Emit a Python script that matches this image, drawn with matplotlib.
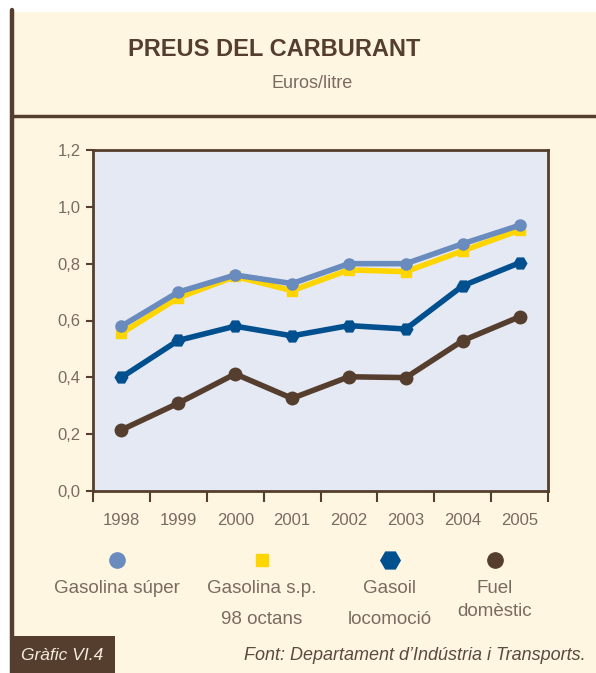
import matplotlib
matplotlib.use('Agg')
import matplotlib.pyplot as plt
from matplotlib.patches import Rectangle
from matplotlib.lines import Line2D

# data (euros/litre)
years = ['1998', '1999', '2000', '2001', '2002', '2003', '2004', '2005']
super_ = [0.58, 0.70, 0.76, 0.73, 0.80, 0.80, 0.87, 0.935]
sp98 = [0.555, 0.68, 0.755, 0.705, 0.778, 0.772, 0.845, 0.918]
gasoil = [0.40, 0.53, 0.58, 0.546, 0.582, 0.57, 0.722, 0.803]
fuel = [0.215, 0.309, 0.412, 0.326, 0.402, 0.399, 0.529, 0.613]

labels = ['Gasolina súper', 'Gasolina s.p.\n98 octans', 'Gasoil\nlocomoció', 'Fuel\ndomèstic']
yticks = [0.0, 0.2, 0.4, 0.6, 0.8, 1.0, 1.2]

BROWN = '#553e2d'
CREAM = '#fff6e2'
TXT = '#7a6b62'
FONT = ['Liberation Sans', 'DejaVu Sans']

W, H = 596, 673
fig = plt.figure(figsize=(W / 100, H / 100), dpi=100, facecolor='white')


def fx(px):
    return px / W


def fy(py):
    return 1 - py / H


# panel background and frame lines
fig.patches.append(Rectangle((fx(10), 0), 1 - fx(10), fy(12), transform=fig.transFigure,
                             facecolor=CREAM, edgecolor='none', zorder=-5))
fig.lines.append(Line2D([fx(12), fx(12)], [0, fy(10)], transform=fig.transFigure,
                        color=BROWN, lw=3.2, solid_capstyle='round'))
fig.lines.append(Line2D([fx(12), 1], [fy(116), fy(116)], transform=fig.transFigure,
                        color=BROWN, lw=2.5))
fig.patches.append(Rectangle((fx(10), 0), fx(115) - fx(10), fy(636), transform=fig.transFigure,
                             facecolor=BROWN, edgecolor='none', zorder=1))

fig.text(fx(274), fy(50), 'PREUS DEL CARBURANT', ha='center', va='center',
         fontsize=17, fontweight='bold', color=BROWN, family=FONT)
fig.text(fx(312), fy(84), 'Euros/litre', ha='center', va='center',
         fontsize=13, color=TXT, family=FONT)

ax = fig.add_axes([fx(93), fy(491), fx(548) - fx(93), (491 - 150) / H])
ax.set_zorder(3)
ax.set_facecolor('#e4e9f4')
x = list(range(len(years)))

ax.plot(x, sp98, color='#ffd500', lw=4, marker='s', ms=7, zorder=3)
ax.plot(x, super_, color='#6a8bbd', lw=4, marker='o', ms=8, zorder=4)
ax.plot(x, gasoil, color='#004f8f', lw=4, marker='H', ms=9, zorder=3)
ax.plot(x, fuel, color=BROWN, lw=4, marker='o', ms=9, zorder=3)

ax.set_xlim(-0.5, len(years) - 0.5)
ax.set_ylim(0, 1.2)
ax.set_yticks(yticks)
ax.set_yticklabels([f'{v:.1f}'.replace('.', ',') for v in yticks],
                   family=FONT, fontsize=12, color=TXT)
ax.set_xticks([i - 0.5 for i in range(len(years) + 1)])
ax.set_xticklabels([])
ax.set_xticks(x, minor=True)
ax.set_xticklabels(years, minor=True, family=FONT, fontsize=12, color=TXT)
ax.tick_params(axis='x', which='major', length=8, width=1.5, color=BROWN, direction='out')
ax.tick_params(axis='x', which='minor', length=0, pad=16)
ax.tick_params(axis='y', length=5, width=1.5, color=BROWN, direction='out', pad=4)
for s in ax.spines.values():
    s.set_color(BROWN)
    s.set_linewidth(2)

# legend row
leg_x = [117, 262, 390, 495]
leg_gap = [2.0, 2.1, 2.1, 1.45]
leg_style = [('o', '#6a8bbd', 11), ('s', '#ffd500', 9), ('H', '#004f8f', 14), ('o', BROWN, 11)]
for lx, (m, c, ms), lab, ls in zip(leg_x, leg_style, labels, leg_gap):
    fig.lines.append(Line2D([fx(lx)], [fy(560)], transform=fig.transFigure, marker=m,
                            color=c, ms=ms, ls='none'))
    fig.text(fx(lx), fy(580), lab, ha='center', va='top', fontsize=13.5, color=TXT,
             family=FONT, linespacing=ls)

fig.text(fx(62), fy(655), 'Gràfic VI.4', ha='center', va='center', fontsize=12.5,
         style='italic', color='#f4ecdf', family=FONT)
fig.text(fx(586), fy(655), 'Font: Departament d\u2019Indústria i Transports.', ha='right',
         va='center', fontsize=13, style='italic', color='#5a4a40', family=FONT)

fig.savefig('out.png', dpi=100, facecolor=fig.get_facecolor())
